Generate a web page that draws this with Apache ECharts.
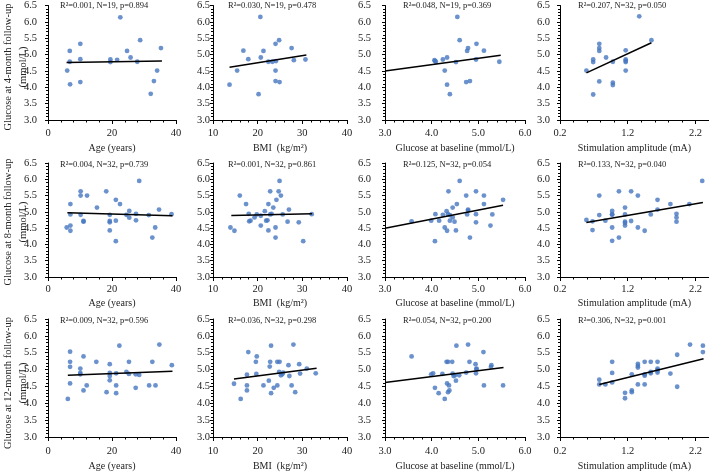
<!DOCTYPE html>
<html><head><meta charset="utf-8">
<script src="https://cdn.jsdelivr.net/npm/echarts@6/dist/echarts.min.js"></script>
<style>html,body{margin:0;padding:0;background:#fff}#c{width:709px;height:472px}</style>
</head><body><div id="c"></div>
<script>
// ---------- data ----------
const xTitles = ['Age (years)', 'BMI  (kg/m²)', 'Glucose at baseline (mmol/L)', 'Stimulation amplitude (mA)'];
const yTitles = ['Glucose at 4-month follow-up', 'Glucose at 8-month follow-up', 'Glucose at 12-month follow-up'];
const yUnit = '(mmol/L)';
const stats = [
  ['R²=0.001, N=19, p=0.894', 'R²=0.030, N=19, p=0.478', 'R²=0.048, N=19, p=0.369', 'R²=0.207, N=32, p=0.050'],
  ['R²=0.004, N=32, p=0.739', 'R²=0.001, N=32, p=0.861', 'R²=0.125, N=32, p=0.054', 'R²=0.133, N=32, p=0.040'],
  ['R²=0.009, N=32, p=0.596', 'R²=0.036, N=32, p=0.298', 'R²=0.054, N=32, p=0.200', 'R²=0.306, N=32, p=0.001']
];

// Row 1: 4-month follow-up
const age4x = [6.0,6.8,6.8,6.9,10.1,10.1,10.1,19.5,19.5,21.6,22.6,24.7,25.8,27.9,28.8,33.1,32.1,34.1,35.3];
const age4y = [4.51,5.11,4.78,4.09,5.33,4.86,4.16,4.85,4.77,4.84,6.14,5.11,4.91,4.78,5.44,4.19,3.80,4.51,5.20];
const bmi4x = [13.7,15.4,16.8,17.9,20.2,20.6,20.7,21.3,22.4,23.3,24.1,24.0,24.0,24.0,24.8,24.9,27.6,28.1,30.7];
const bmi4y = [4.08,4.51,5.12,4.86,3.79,6.15,4.91,5.11,4.78,4.78,4.80,5.33,4.51,4.19,5.44,4.16,5.20,4.83,4.85];
const base4x = [4.06,4.09,4.24,4.28,4.33,4.33,4.39,4.52,4.55,4.60,4.74,4.76,4.78,4.82,4.96,4.95,5.12,5.45,4.07];
const base4y = [4.83,4.78,4.85,4.51,4.91,4.08,3.79,4.77,6.15,5.44,4.16,5.11,5.20,4.19,5.33,4.85,5.12,4.78,4.80];
const amp4x = [0.59,0.69,0.69,0.69,0.78,0.78,0.78,0.78,0.88,0.98,0.98,0.98,1.17,1.17,1.17,1.17,1.37,1.55,1.17];
const amp4y = [4.51,4.85,4.77,3.78,5.33,5.20,5.11,4.18,4.91,4.78,4.14,4.07,5.13,4.85,4.77,4.51,6.17,5.44,4.81];

// Row 2: 8-month follow-up
const age8x = [5.85,7.0,7.0,7.0,7.0,10.2,10.2,10.2,11.1,11.1,12.2,15.3,18.2,19.3,19.3,19.3,19.3,21.2,21.2,21.2,22.5,24.5,25.4,25.4,27.5,27.5,28.5,31.5,32.6,33.5,34.7,38.6];
const age8y = [4.52,4.58,4.42,4.92,5.24,5.63,5.50,4.91,4.72,4.70,5.50,5.13,5.63,4.91,4.72,4.68,4.43,5.37,4.73,4.10,5.24,4.91,5.03,4.82,4.94,4.74,5.95,4.90,4.21,4.52,5.07,4.93];
const bmi8x = [13.9,14.8,16.0,17.4,18.0,18.1,18.4,19.3,19.8,20.7,20.7,21.6,21.9,22.2,22.4,22.4,22.8,22.8,23.1,23.5,24.0,24.0,24.2,24.7,24.9,25.2,25.6,27.0,26.7,29.2,30.2,32.1];
const bmi8y = [4.52,4.42,5.50,5.24,4.94,4.71,4.73,4.83,4.92,4.88,4.58,5.02,4.73,4.74,4.43,5.24,5.63,4.92,4.94,5.13,4.52,4.21,5.37,5.63,5.95,5.50,4.92,5.07,4.70,4.68,4.10,4.93];
const base8x = [3.57,3.99,4.07,4.08,4.16,4.24,4.28,4.32,4.33,4.35,4.36,4.39,4.39,4.45,4.45,4.49,4.52,4.54,4.60,4.74,4.76,4.78,4.78,4.82,4.95,4.95,4.95,5.12,5.12,5.26,5.30,5.53];
const base8y = [4.71,4.73,4.10,4.93,4.73,4.91,4.52,5.02,4.42,4.93,5.63,4.90,4.73,5.13,4.83,4.70,4.43,5.24,5.95,5.50,4.92,5.07,5.04,4.21,5.63,4.93,4.68,5.50,5.24,4.58,4.92,5.37];
const amp8x = [0.59,0.68,0.68,0.78,0.78,0.87,0.97,0.97,0.97,0.97,1.07,1.07,1.16,1.16,1.16,1.16,1.25,1.25,1.35,1.35,1.45,1.54,1.64,1.64,1.83,1.92,1.92,1.92,2.11,2.30,1.16,0.97];
const amp8y = [4.75,4.71,4.44,5.50,4.90,4.73,5.03,4.91,4.52,4.11,5.63,4.21,5.13,4.92,4.70,4.58,5.63,4.72,5.50,4.52,4.42,4.92,5.37,5.07,5.24,4.94,4.83,4.70,5.24,5.95,4.66,4.93];

// Row 3: 12-month follow-up
const age12x = [6.2,6.9,6.9,6.9,6.9,10.1,10.1,10.1,11.1,11.1,12.1,15.1,18.3,19.3,19.3,19.3,19.3,21.3,21.3,21.3,22.3,24.5,25.3,25.3,27.4,27.4,28.5,31.6,32.6,33.6,34.8,38.7];
const age12y = [4.13,5.53,5.23,5.08,4.59,5.03,4.90,4.86,5.39,4.38,4.53,5.23,4.33,5.16,4.90,4.81,4.68,4.89,4.53,4.30,5.71,4.93,5.23,4.87,4.86,4.46,4.84,4.53,5.23,4.53,5.74,5.13];
const bmi12x = [14.7,16.2,17.6,17.6,17.6,17.9,19.6,19.8,19.7,21.3,22.5,22.7,22.8,23.0,23.0,23.6,24.4,24.4,24.8,24.9,25.2,25.5,25.7,26.9,27.1,27.6,28.0,28.4,29.3,29.5,31.0,33.0];
const bmi12y = [4.58,4.13,4.53,4.38,4.85,5.52,5.23,5.39,4.87,4.53,4.67,5.09,5.23,5.71,4.30,4.46,5.23,4.53,4.93,5.23,4.83,4.86,4.91,5.13,4.81,4.53,5.74,4.33,5.16,4.88,5.03,4.89];
const base12x = [3.57,3.99,4.03,4.07,4.15,4.23,4.28,4.32,4.33,4.35,4.35,4.37,4.38,4.44,4.45,4.47,4.50,4.52,4.53,4.59,4.74,4.78,4.81,4.94,4.95,4.96,4.96,5.11,5.12,5.27,5.28,5.53];
const base12y = [5.39,4.86,4.89,4.46,4.30,4.87,4.13,5.23,4.59,5.23,4.33,4.53,4.38,5.23,4.88,4.81,4.83,4.67,5.71,4.83,4.91,5.74,5.23,5.16,4.89,5.01,5.03,5.52,4.53,5.08,5.13,4.53];
const amp12x = [0.78,0.78,0.87,0.97,0.97,0.97,1.16,1.16,1.26,1.26,1.26,1.35,1.35,1.35,1.35,1.45,1.45,1.45,1.45,1.54,1.54,1.54,1.64,1.64,1.64,1.64,1.83,1.93,1.93,2.12,2.31,2.31];
const amp12y = [4.70,4.56,4.56,5.23,4.90,4.62,4.31,4.15,4.86,4.38,4.33,5.17,5.11,5.06,4.56,5.23,4.86,4.82,4.56,5.23,4.93,4.89,5.23,5.03,4.98,4.91,4.88,5.44,4.49,5.74,5.71,5.52];

// Linear trend lines (start / end)
const trendAge4 = [[5.8,4.76],[35.6,4.80]];
const trendBmi4 = [[13.7,4.61],[30.9,4.99]];
const trendBase4 = [[3.0,4.50],[5.48,4.98]];
const trendAmp4 = [[0.59,4.44],[1.55,5.36]];
const trendAge8 = [[6.05,4.97],[38.9,4.88]];
const trendBmi8 = [[14.1,4.89],[32.2,4.94]];
const trendBase8 = [[3.0,4.50],[5.53,5.20]];
const trendAmp8 = [[0.59,4.67],[2.31,5.29]];
const trendAge12 = [[6.2,4.83],[38.9,4.95]];
const trendBmi12 = [[14.7,4.72],[33.2,5.04]];
const trendBase12 = [[3.0,4.62],[5.54,5.06]];
const trendAmp12 = [[0.78,4.56],[2.32,5.32]];

const panels = [
  [[age4x,age4y,trendAge4],[bmi4x,bmi4y,trendBmi4],[base4x,base4y,trendBase4],[amp4x,amp4y,trendAmp4]],
  [[age8x,age8y,trendAge8],[bmi8x,bmi8y,trendBmi8],[base8x,base8y,trendBase8],[amp8x,amp8y,trendAmp8]],
  [[age12x,age12y,trendAge12],[bmi12x,bmi12y,trendBmi12],[base12x,base12y,trendBase12],[amp12x,amp12y,trendAmp12]]
];

// ---------- layout / style ----------
const FONT = '"Liberation Serif","Times New Roman",serif';
const TXT = '#222';
const DOT = '#4677c0';
const cols = [
  {left:48, width:128, min:0, max:40, interval:20, dec:0, ym:11, sx:60},
  {left:213, width:134, min:10, max:40, interval:10, dec:0, ym:3, sx:228},
  {left:385, width:140, min:3, max:6, interval:1, dec:1, ym:14, sx:403},
  {left:560, width:152, min:0.2, max:2.4, interval:1, dec:1, ym:10, sx:578}
];
const rows = [
  {top:5, height:115, gap:23, lm:8, sy:6, cy:67},
  {top:163, height:114, gap:21, lm:7, sy:165, cy:222},
  {top:319, height:121, gap:24, lm:9, sy:321, cy:383}
];

const grid = [], xAxis = [], yAxis = [], series = [], graphic = [];
rows.forEach((r, ri) => {
  cols.forEach((c, ci) => {
    const idx = grid.length;
    grid.push({left:c.left, top:r.top, width:c.width, height:r.height, containLabel:false});
    xAxis.push({
      type:'value', gridIndex:idx, min:c.min, max:c.max, interval:c.interval,
      name:xTitles[ci], nameLocation:'middle', nameGap:r.gap,
      nameTextStyle:{fontFamily:FONT, fontSize:10, color:TXT},
      axisLine:{show:true, onZero:false, lineStyle:{color:'#000', width:1}},
      axisTick:{show:true, inside:false, length:4, lineStyle:{color:'#000'}},
      minorTick:{show:true, splitNumber:5, length:2.5, lineStyle:{color:'#000'}},
      splitLine:{show:false},
      axisLabel:{fontFamily:FONT, fontSize:10.5, color:TXT, margin:r.lm, showMaxLabel: ci===3 ? false : true,
        formatter: v => Number(v).toFixed(c.dec)}
    });
    yAxis.push({
      type:'value', gridIndex:idx, min:3, max:6.5, interval:0.5,
      axisLine:{show:true, onZero:false, lineStyle:{color:'#000', width:1}},
      axisTick:{show:true, inside:false, length:3, lineStyle:{color:'#000'}},
      minorTick:{show:true, splitNumber:5, length:2, lineStyle:{color:'#000'}},
      splitLine:{show:false},
      axisLabel:{fontFamily:FONT, fontSize:10.5, color:TXT, margin:c.ym,
        formatter: v => Number(v).toFixed(1)}
    });
    const [xs, ys, tr] = panels[ri][ci];
    series.push({
      type:'scatter', xAxisIndex:idx, yAxisIndex:idx, symbolSize:4.8,
      itemStyle:{color:DOT}, data: xs.map((x,i) => [x, ys[i]]), silent:true
    });
    series.push({
      type:'line', xAxisIndex:idx, yAxisIndex:idx, data:tr, symbol:'none',
      lineStyle:{color:'#000', width:1.5}, silent:true, z:3
    });
    graphic.push({
      type:'text', x:c.sx, y:r.sy,
      style:{text:stats[ri][ci], font:'8.5px ' + FONT, fill:TXT, textVerticalAlign:'middle', textAlign:'left'}
    });
  });
  graphic.push({
    type:'text', x:8, y:r.cy, rotation:Math.PI/2,
    style:{text:yTitles[ri], font:'10.5px ' + FONT, fill:TXT, textAlign:'center', textVerticalAlign:'middle'}
  });
  graphic.push({
    type:'text', x:23, y:r.cy, rotation:Math.PI/2,
    style:{text:yUnit, font:'10.5px ' + FONT, fill:TXT, textAlign:'center', textVerticalAlign:'middle'}
  });
});

const chart = echarts.init(document.getElementById('c'), null, {renderer:'canvas'});
chart.setOption({
  animation:false, backgroundColor:'#fff',
  grid, xAxis, yAxis, series, graphic
});
</script></body></html>
